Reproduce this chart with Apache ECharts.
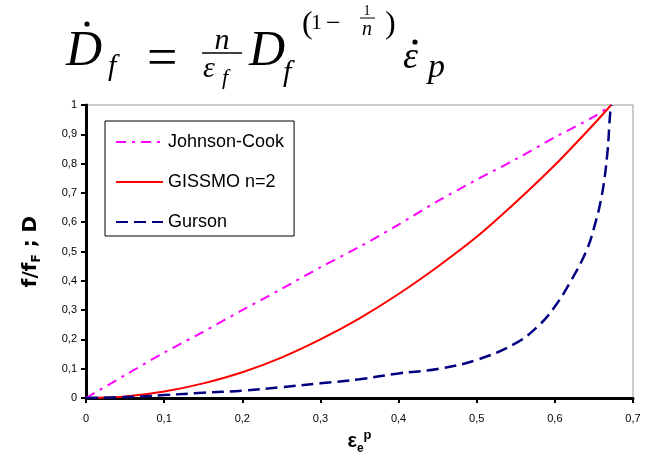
<!DOCTYPE html>
<html>
<head>
<meta charset="utf-8">
<script src="https://cdn.jsdelivr.net/npm/echarts@6/dist/echarts.min.js"></script>
<style>
html,body{margin:0;padding:0;background:#fff;}
#chart{width:650px;height:461px;}
</style>
</head>
<body>
<div id="chart"></div>
<script>
// ---- data ----
const seriesNames = ['Johnson-Cook', 'GISSMO n=2', 'Gurson'];
const xTickValues = [0, 0.1, 0.2, 0.3, 0.4, 0.5, 0.6, 0.7];
const yTickValues = [0, 0.1, 0.2, 0.3, 0.4, 0.5, 0.6, 0.7, 0.8, 0.9, 1];

const strainJC = [0, 0.05, 0.1, 0.15, 0.2, 0.25, 0.3, 0.35, 0.4, 0.45, 0.5, 0.55, 0.6, 0.65, 0.672];
const damageJC = [0, 0.078, 0.155, 0.226, 0.3, 0.372, 0.446, 0.516, 0.592, 0.672, 0.745, 0.815, 0.89, 0.96, 1.0];

const strainGISSMO = [0, 0.05, 0.1, 0.15, 0.2, 0.25, 0.3, 0.35, 0.4, 0.45, 0.5, 0.55, 0.6, 0.65, 0.672];
const damageGISSMO = [0, 0.005, 0.022, 0.05, 0.088, 0.138, 0.2, 0.272, 0.355, 0.448, 0.55, 0.668, 0.795, 0.935, 1.0];

const strainGurson = [0, 0.05, 0.1, 0.15, 0.2, 0.25, 0.3, 0.35, 0.4, 0.45, 0.5, 0.55, 0.58, 0.6, 0.62, 0.64, 0.65, 0.66, 0.667, 0.671, 0.673];
const damageGurson = [0, 0.003, 0.01, 0.018, 0.025, 0.037, 0.05, 0.064, 0.084, 0.099, 0.13, 0.187, 0.249, 0.312, 0.397, 0.5, 0.58, 0.69, 0.83, 0.977, 1.0];

function zip(a, b) { return a.map((v, i) => [v, b[i]]); }
function fmt(v) { const r = +(+v).toFixed(1); return r === 0 ? '0' : String(r).replace('.', ','); }

const chart = echarts.init(document.getElementById('chart'), null, {renderer: 'canvas'});

const serif = 'Liberation Serif';
function mtext(txt, x, y, size, italic, align) {
  return {type: 'text', style: {text: txt, x: x, y: y, fill: '#000',
    font: (italic ? 'italic ' : '') + size + 'px "' + serif + '"',
    align: align || 'left', verticalAlign: 'middle'}};
}
function bar(x1, x2, y, w) {
  return {type: 'line', shape: {x1: x1, y1: y, x2: x2, y2: y}, style: {stroke: '#000', lineWidth: w}};
}
function dot(x, y, r) {
  return {type: 'circle', shape: {cx: x, cy: y, r: r}, style: {fill: '#000'}};
}

const formula = [
  mtext('D', 66, 52, 50, true),
  dot(87, 24, 2.6),
  mtext('f', 108, 67, 30, true),
  mtext('=', 147, 61, 54, false),
  mtext('n', 222, 41, 30, true, 'center'),
  bar(202, 242, 53, 1.6),
  mtext('ε', 203, 69, 30, true),
  mtext('f', 222, 78, 22, true),
  mtext('D', 249, 52, 50, true),
  mtext('f', 283, 73, 30, true),
  mtext('(', 302, 25, 32, false),
  mtext('1', 311, 23, 22, false),
  mtext('−', 326, 24, 26, false),
  mtext('1', 367, 11, 14, false, 'center'),
  bar(360, 375, 18, 1),
  mtext('n', 367, 30, 20, true, 'center'),
  mtext(')', 385, 25, 32, false),
  mtext('ε', 403, 58, 38, true),
  dot(415, 42, 2.6),
  mtext('p', 428, 68, 34, true)
];

const option = {
  animation: false,
  backgroundColor: '#fff',
  grid: {left: 86, right: 17, top: 105, bottom: 63, show: true, borderColor: '#999', borderWidth: 1, backgroundColor: 'transparent'},
  legend: {
    data: seriesNames,
    orient: 'vertical', left: 105, top: 121,
    padding: [12, 10, 5, 10],
    itemWidth: 47, itemHeight: 18, itemGap: 22,
    borderColor: '#000', borderWidth: 1, borderRadius: 0,
    itemStyle: {opacity: 0},
    textStyle: {fontSize: 18, fontFamily: 'Liberation Sans', color: '#000'}
  },
  xAxis: {
    type: 'value', min: 0, max: 0.7, interval: 0.1,
    name: '{e|ε}{s|e}{p|p}', nameLocation: 'middle', nameGap: 28,
    nameTextStyle: {rich: {
      e: {fontSize: 20, fontWeight: 'bold', fontFamily: 'Liberation Sans', color: '#000', lineHeight: 26},
      s: {fontSize: 12, fontWeight: 'bold', fontFamily: 'Liberation Sans', color: '#000', lineHeight: 14, verticalAlign: 'bottom'},
      p: {fontSize: 13, fontWeight: 'bold', fontFamily: 'Liberation Sans', color: '#000', lineHeight: 14, verticalAlign: 'top'}
    }},
    axisLine: {show: true, onZero: false, lineStyle: {color: '#000', width: 3}},
    axisTick: {show: true, length: 5, lineStyle: {color: '#000', width: 2}},
    splitLine: {show: false},
    axisLabel: {fontSize: 11, fontFamily: 'Liberation Sans', color: '#000', margin: 15,
      formatter: fmt, customValues: xTickValues}
  },
  yAxis: {
    type: 'value', min: 0, max: 1, interval: 0.1,
    name: '{a|f/f}{b|F}{a| ; D}', nameLocation: 'middle', nameRotate: 90, nameGap: 43,
    nameTextStyle: {rich: {
      a: {fontSize: 20, fontWeight: 'bold', fontFamily: 'DejaVu Sans', color: '#000', lineHeight: 24},
      b: {fontSize: 12, fontWeight: 'bold', fontFamily: 'DejaVu Sans', color: '#000', lineHeight: 12, verticalAlign: 'bottom'}
    }},
    axisLine: {show: true, onZero: false, lineStyle: {color: '#000', width: 3}},
    axisTick: {show: true, length: 5, lineStyle: {color: '#000', width: 2}},
    splitLine: {show: false},
    axisLabel: {fontSize: 11, fontFamily: 'Liberation Sans', color: '#000', margin: 9,
      formatter: fmt, customValues: yTickValues}
  },
  series: [
    {name: seriesNames[0], type: 'line', data: zip(strainJC, damageJC), symbol: 'none', smooth: 0.3,
      color: '#FF00FF', lineStyle: {color: '#FF00FF', width: 2, type: [10, 6, 3, 6]}},
    {name: seriesNames[1], type: 'line', data: zip(strainGISSMO, damageGISSMO), symbol: 'none', smooth: 0.3,
      color: '#FF0000', lineStyle: {color: '#FF0000', width: 2}},
    {name: seriesNames[2], type: 'line', data: zip(strainGurson, damageGurson), symbol: 'none', smooth: 0.4,
      color: '#000080', lineStyle: {color: '#000080', width: 2.5, type: [12, 6]}}
  ],
  graphic: formula
};
chart.setOption(option);
</script>
</body>
</html>
